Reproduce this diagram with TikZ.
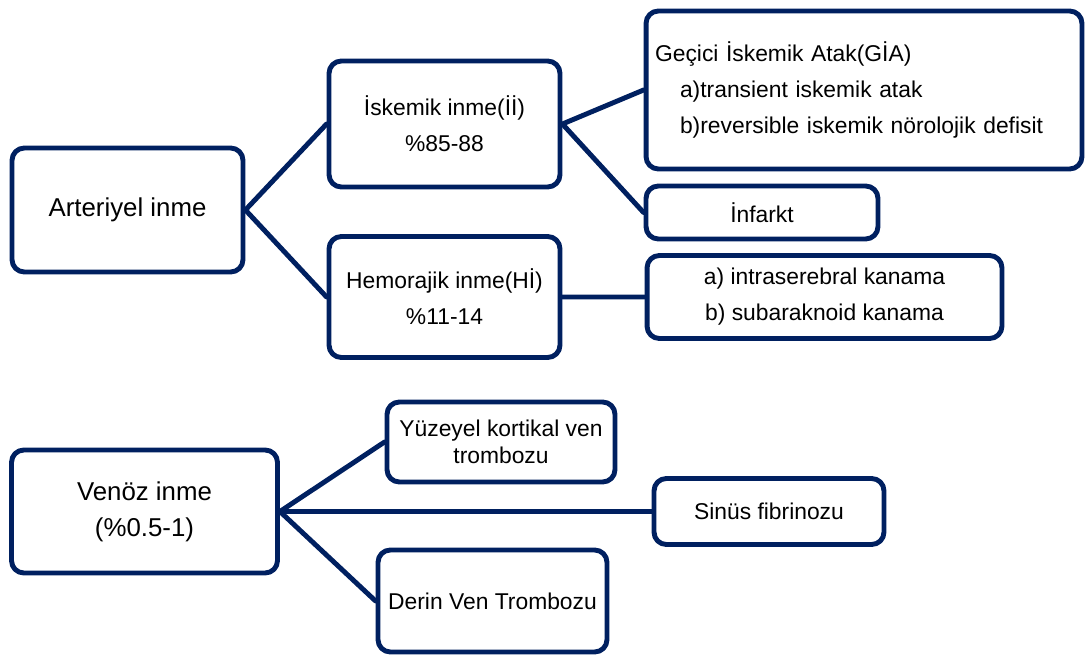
\documentclass[tikz,border=0pt]{standalone}
\usepackage{fontspec}
\setmainfont{Liberation Sans}
\usetikzlibrary{positioning}
\definecolor{lacivert}{RGB}{0,32,96}
\tikzstyle{every node}=[font=\fontsize{13}{20.5}\selectfont]
\tikzstyle{every path}=[line width=2.8pt,line cap=round,line join=round]
\tikzstyle{kutu}=[draw=lacivert,fill=white,rounded corners=7pt,align=center,inner sep=0pt]
\tikzstyle{baslik}=[font=\fontsize{14.7}{20.5}\selectfont]
\tikzstyle{baglanti}=[draw=lacivert]

\begin{document}
\begin{tikzpicture}[x=0.02cm,y=-0.02cm]
  \useasboundingbox (0,0) rectangle (1085,655);
  % arteriyel inme
  \node[kutu,baslik,minimum width=4.62cm,minimum height=2.48cm] (arteriyel) at (127.5,210) {Arteriyel inme};
  \node[kutu,minimum width=4.62cm,minimum height=2.52cm] (iskemik) at (444.5,124) {İskemik inme(İİ)\\\%85-88};
  \node[kutu,minimum width=4.62cm,minimum height=2.42cm] (hemorajik) at (444.5,297) {Hemorajik inme(Hİ)\\\%11-14};
  \node[kutu,align=left,text width=8.36cm,inner xsep=0.18cm,minimum height=3.16cm] (gia) at (864,90)
    {Geçici İskemik Atak(GİA)\\\hspace*{0.5cm}a)transient iskemik atak\\\hspace*{0.5cm}b)reversible iskemik nörolojik defisit};
  \node[kutu,minimum width=4.64cm,minimum height=1.06cm] (infarkt) at (762,212.5) {İnfarkt};
  \node[kutu,minimum width=7.1cm,minimum height=1.66cm] (kanama) at (824.5,297) {a) intraserebral kanama\\b) subaraknoid kanama};
  % venoz inme
  \node[kutu,baslik,minimum width=5.32cm,minimum height=2.46cm] (venoz) at (144.5,511.5) {Venöz inme\\(\%0.5-1)};
  \node[kutu,font=\fontsize{13}{15}\selectfont,minimum width=4.56cm,minimum height=1.6cm] (yuzeyel) at (501,442) {Yüzeyel kortikal ven\\trombozu};
  \node[kutu,minimum width=4.6cm,minimum height=1.32cm] (sinus) at (769,511.5) {Sinüs fibrinozu};
  \node[kutu,minimum width=4.58cm,minimum height=2.04cm] (derin) at (492.5,601) {Derin Ven Trombozu};

  \draw[baglanti]
    (arteriyel.east)--(iskemik.west) (arteriyel.east)--(hemorajik.west)
    (iskemik.east)--(gia.west) (iskemik.east)--(infarkt.west)
    (hemorajik.east)--(kanama.west)
    (venoz.east)--(yuzeyel.west) (venoz.east)--(sinus.west) (venoz.east)--(derin.west);
\end{tikzpicture}
\end{document}
